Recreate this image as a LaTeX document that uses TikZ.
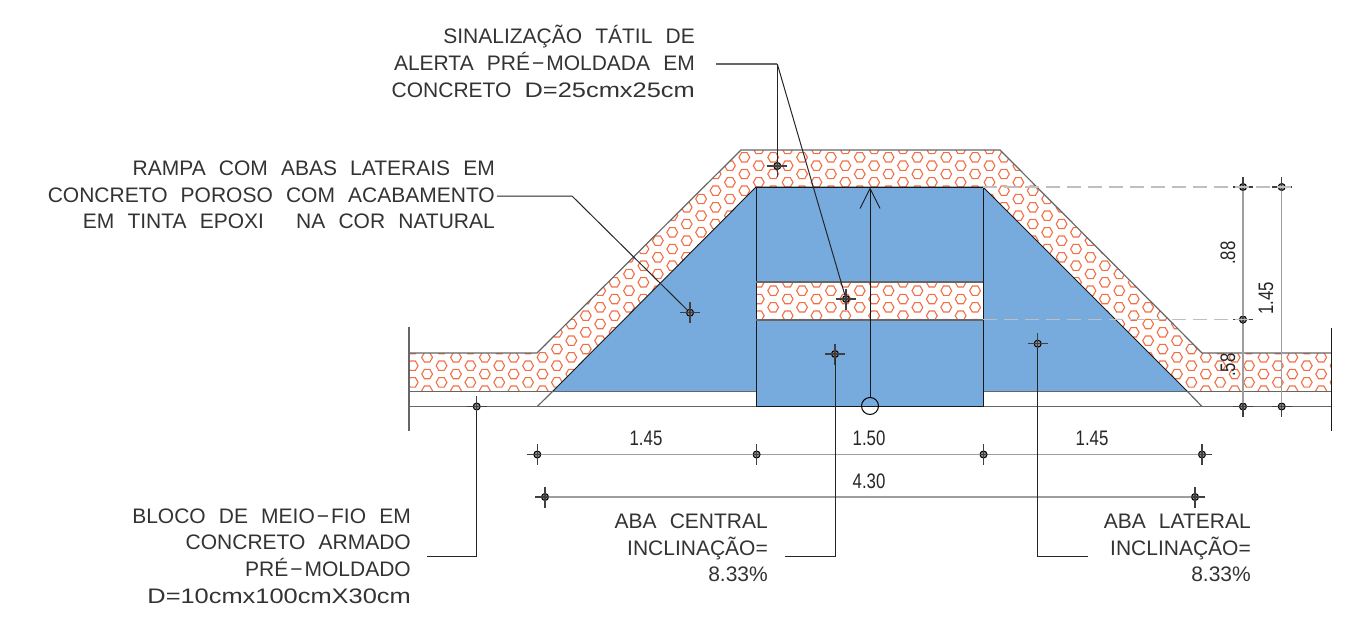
\documentclass[tikz,border=0pt]{standalone}
\usepackage{fontspec}
\usetikzlibrary{arrows.meta}
\newfontfamily\notefont[WordSpace=2.25]{Liberation Sans}
\newfontfamily\sizefont[FakeStretch=1.21]{Liberation Sans}
\newfontfamily\dimfont[FakeStretch=0.8]{Liberation Sans}
\definecolor{rampblue}{HTML}{77ABDD}
\definecolor{hexorange}{HTML}{F26F45}

\newcommand{\hexgrid}{%
  \foreach \i in {0,...,32} {
    \foreach \j in {-13,...,2} {
      \foreach \dx/\dy in {0/0,14.42/8.335} {
        \pgfmathsetmacro{\hx}{412.7+28.84*\i+\dx}
        \pgfmathsetmacro{\hy}{365.7+16.67*\j+\dy}
        \draw[hexline,shift={(\hx,\hy)}]
          (5.4,0) -- (2.7,4.68) -- (-2.7,4.68) -- (-5.4,0) -- (-2.7,-4.68) -- (2.7,-4.68) -- cycle;
      }
    }
  }%
}
\newcommand{\mk}[2]{%
  \node[markdot] (#1) at (#2) {};
  \draw[markarm] (#1.center) +(-10,0) -- +(10,0);
  \draw[markarm] (#1.center) +(0,-10.5) -- +(0,10.5);%
}
\newcommand{\longdash}{\kern2pt−\kern2pt}

\begin{document}
\begin{tikzpicture}
[x=1pt,y=-1pt,
  hexline/.style={draw=hexorange,line width=1.1pt},
  outline/.style={draw=black!60,line width=1.2pt},
  edgeline/.style={draw=black!90,line width=.9pt},
  dimline/.style={draw=black!38,line width=1.1pt},
  dashline/.style={draw=black!25,line width=1.4pt,dash pattern=on 14pt off 7pt},
  leader/.style={draw=black!85,line width=1pt},
  markdot/.style={shape=circle,draw=black,fill=black!45,line width=1pt,minimum size=7pt,inner sep=0pt},
  markarm/.style={draw=black!75,line width=1.1pt},
  note/.style={font=\notefont\fontsize{21}{26.7}\selectfont,text=black!80,align=right,anchor=east,inner sep=0pt},
  dimtext/.style={font=\dimfont\fontsize{21}{24}\selectfont,text=black!85,inner sep=0pt}]
\useasboundingbox (0,0) rectangle (1368,629);

% hatched block
\begin{scope}
  \clip (409,353) -- (537,353) -- (741,150) -- (1000,150) -- (1202,353)
    -- (1331,353) -- (1331,391) -- (409,391) -- cycle;
  \hexgrid
\end{scope}

% ramp
\fill[rampblue] (553,391) -- (756,187) -- (983,187) -- (1187,391) -- cycle;
\fill[rampblue] (756,187) rectangle (983,406.5);
\begin{scope}
  \clip (756,282) rectangle (983,320);
  \fill[white] (756,282) rectangle (983,320);
  \hexgrid
\end{scope}

% outlines
\draw[outline] (409,353) -- (537,353) -- (741,150) -- (1000,150) -- (1202,353) -- (1331,353);
\draw[outline] (409,391.5) -- (756,391.5);
\draw[outline] (983,391.5) -- (1331,391.5);
\draw[outline] (409,406.5) -- (1331,406.5);
\draw[outline] (409,327) -- (409,431);
\draw[edgeline] (1331,328) -- (1331,431);
\draw[outline] (537.3,406.5) -- (553,391);
\draw[outline] (1202,406.5) -- (1187,391);
\draw[edgeline] (553,391) -- (756,187) -- (983,187) -- (1187,391);
\draw[edgeline] (756,187) rectangle (983,406.5);
\draw[outline] (756,282) -- (983,282);
\draw[outline] (756,320) -- (983,320);

% center axis
\node[shape=circle,draw=black,line width=1pt,minimum size=17pt,inner sep=0pt] (axis) at (870,406) {};
\coordinate (axistop) at (870,187.5);
\draw[edgeline,-{Straight Barb[length=20pt,width=20pt]}] (axis) -- (axistop);

% dimension lines
\coordinate (dashtop) at (983,187);
\coordinate (dashmid) at (983,319.5);
\mk{dima}{537.3,454.5}
\mk{dimb}{756.6,454.5}
\mk{dimc}{983.5,454.5}
\mk{dimd}{1202,454.5}
\mk{dime}{545,497}
\mk{dimf}{1195,497}
\mk{vala}{1243,187}
\mk{valb}{1243,319.5}
\mk{valc}{1243,406.5}
\mk{vbla}{1281.7,187}
\mk{vblb}{1281.7,406.5}
\draw[dimline] (dima) -- (dimb) (dimb) -- (dimc) (dimc) -- (dimd);
\draw[dimline] (dime) -- (dimf);
\draw[dimline] (vala) -- (valb) (valb) -- (valc);
\draw[dimline] (vbla) -- (vblb);
\draw[dashline] (dashtop) -- ++(312,0);
\draw[dashline] (dashmid) -- ++(270,0);

\node[dimtext] (lena) at (646,438) {1.45};
\node[dimtext] (lenb) at (869,438) {1.50};
\node[dimtext] (lenc) at (1092,438) {1.45};
\node[dimtext] (lend) at (869,481) {4.30};
\node[dimtext,rotate=90] (hgta) at (1228,253) {.88};
\node[dimtext,rotate=90] (hgtb) at (1266,298) {1.45};
\node[dimtext,rotate=90] (hgtc) at (1228,365) {.58};

% leaders
\mk{tiletop}{777.3,166}
\mk{tileband}{846,299}
\mk{tickramp}{690,312.7}
\mk{tickbloco}{476.7,406.5}
\mk{tickcentral}{835,354}
\mk{ticklateral}{1037.7,343.7}
\coordinate (tilestart) at (716,64);
\coordinate (tilebend) at (777.3,64);
\coordinate (rampstart) at (497,196);
\coordinate (rampbend) at (572,196);
\coordinate (blocostart) at (427,556);
\coordinate (centralstart) at (785,556);
\coordinate (lateralstart) at (1088,556);
\draw[outline] (tilestart) -- (tilebend);
\draw[leader] (tilebend) -- (tiletop);
\draw[leader] (tilebend) -- (tileband);
\draw[leader] (rampstart) -- (rampbend) -- (tickramp);
\draw[leader] (blocostart) -| (tickbloco);
\draw[leader] (centralstart) -| (tickcentral);
\draw[leader] (lateralstart) -| (ticklateral);

% notes
\node[note] (tilenote) at (695,61.5) {SINALIZAÇÃO TÁTIL DE\\ALERTA PRÉ\longdash MOLDADA EM\\CONCRETO {\sizefont D=25cmx25cm}};
\node[note] (rampnote) at (495,195) {RAMPA COM ABAS LATERAIS EM\\CONCRETO POROSO COM ACABAMENTO\\EM TINTA EPOXI\ \ \kern6pt NA COR NATURAL};
\node[note] (bloconote) at (411,556) {BLOCO DE MEIO\longdash FIO EM\\CONCRETO ARMADO\\PRÉ\longdash MOLDADO\\{\sizefont D=10cmx100cmX30cm}};
\node[note] (centralnote) at (768,548) {ABA CENTRAL\\INCLINAÇÃO=\\8.33\%};
\node[note] (lateralnote) at (1251,548) {ABA LATERAL\\INCLINAÇÃO=\\8.33\%};
\end{tikzpicture}
\end{document}
